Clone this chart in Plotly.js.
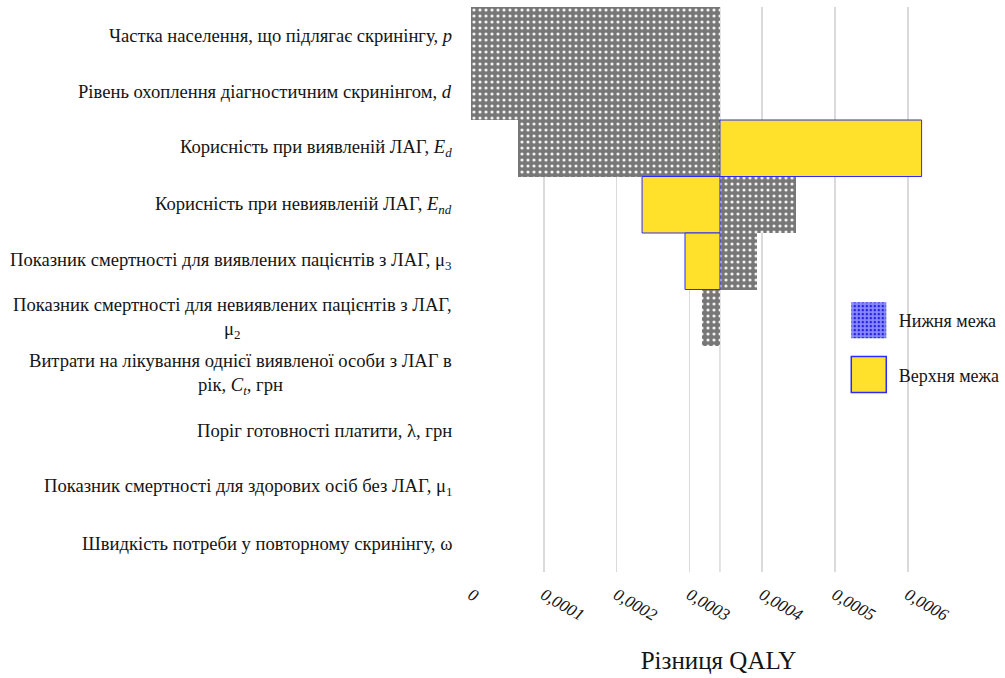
<!DOCTYPE html>
<html>
<head>
<meta charset="utf-8">
<script src="https://cdn.plot.ly/plotly-3.0.1.min.js"></script>
<style>
  html, body { margin: 0; padding: 0; background: #ffffff; }
  #chart { width: 1005px; height: 678px; }
</style>
</head>
<body>
<div id="chart"></div>
<script>
// Tornado diagram: one-way sensitivity of the QALY difference
const parameters = [
  'Частка населення, що підлягає скринінгу, <i>p</i>',
  'Рівень охоплення діагностичним скринінгом, <i>d</i>',
  'Корисність при виявленій ЛАГ, <i>E<sub>d</sub></i>',
  'Корисність при невиявленій ЛАГ, <i>E<sub>nd</sub></i>',
  'Показник смертності для виявлених пацієнтів з ЛАГ, μ<sub>3</sub>',
  'Показник смертності для невиявлених пацієнтів з ЛАГ,<br>μ<sub>2</sub>',
  'Витрати на лікування однієї виявленої особи з ЛАГ в<br>рік, <i>C<sub>t</sub></i>, грн',
  'Поріг готовності платити, λ, грн',
  'Показник смертності для здорових осіб без ЛАГ, μ<sub>1</sub>',
  'Швидкість потреби у повторному скринінгу, ω'
];

// Base-case QALY difference (where the bars meet)
const baseQaly = 0.000342;

// QALY difference at the lower / upper bound of each parameter
const lowerBound = [0, 0, 0.0000646, 0.000446, 0.000393, 0.000317, 0.000342, 0.000342, 0.000342, 0.000342];
const upperBound = [0.000342, 0.000342, 0.000619, 0.000235, 0.000294, 0.000342, 0.000342, 0.000342, 0.000342, 0.000342];

const seriesNames = ['Нижня межа', 'Верхня межа'];
const tickValues = [0, 0.0001, 0.0002, 0.0003, 0.0004, 0.0005, 0.0006];

const serif = "'Liberation Serif', 'Times New Roman', serif";
const textColor = '#151515';
const gridColor = '#dadada';

// bar length measured from the base case; no bar when the value does not move
const delta = arr => arr.map(v => (Math.abs(v - baseQaly) < 1e-12 ? null : v - baseQaly));

const lowerTrace = {
  type: 'bar', orientation: 'h',
  y: parameters, x: delta(lowerBound), base: baseQaly,
  name: seriesNames[0], showlegend: false,
  marker: {
    color: '#777777',
    line: { width: 0 },
    pattern: { shape: '.', bgcolor: '#777777', fgcolor: '#ffffff', fgopacity: 0.9, size: 6, solidity: 0.22 }
  },
  hoverinfo: 'skip'
};

const upperTrace = {
  type: 'bar', orientation: 'h',
  y: parameters, x: delta(upperBound), base: baseQaly,
  name: seriesNames[1], showlegend: false,
  marker: { color: '#ffe12b', line: { color: '#2b2bff', width: 1 } },
  hoverinfo: 'skip'
};

// legend entries
const lowerKey = {
  type: 'bar', orientation: 'h', x: [null], y: [parameters[0]],
  name: seriesNames[0], legendgroup: 'lo', showlegend: true,
  marker: {
    color: '#8a8aff', line: { width: 0 },
    pattern: { shape: '.', bgcolor: '#8a8aff', fgcolor: '#1f1fe6', size: 5, solidity: 0.3 }
  }
};
const upperKey = {
  type: 'bar', orientation: 'h', x: [null], y: [parameters[0]],
  name: seriesNames[1], legendgroup: 'hi', showlegend: true,
  marker: { color: '#ffe12b', line: { color: '#2b2bff', width: 1.5 } }
};

// category labels, centred line by line, right of the text against the plot
const labelNotes = parameters.map(p => ({
  x: 0, xref: 'paper', xanchor: 'right', xshift: -17,
  y: p, yref: 'y', yanchor: 'middle',
  text: p, showarrow: false, align: 'center',
  font: { family: serif, size: 18.6, color: textColor }
}));

const layout = {
  width: 1005, height: 678,
  margin: { l: 471, r: 39, t: 7, b: 106, autoexpand: false },
  paper_bgcolor: '#ffffff', plot_bgcolor: '#ffffff',
  separators: ', ',
  barmode: 'overlay', bargap: 0,
  showlegend: true,
  legend: {
    x: 0.743, xanchor: 'left', y: 0.478, yanchor: 'top',
    bgcolor: 'rgba(0,0,0,0)', borderwidth: 0,
    font: { family: serif, size: 18, color: textColor },
    tracegroupgap: 28, itemwidth: 50, traceorder: 'grouped'
  },
  xaxis: {
    range: [0, 0.00068],
    tickvals: tickValues, tickformat: '.4~f',
    tickangle: 30, ticks: '', ticklabelstandoff: 9,
    tickfont: { family: serif, size: 17, color: textColor, style: 'italic' },
    showgrid: true, gridcolor: gridColor, gridwidth: 1.5,
    zeroline: false, showline: false,
    title: { text: 'Різниця QALY', font: { family: serif, size: 25, color: textColor }, standoff: 27 }
  },
  yaxis: {
    type: 'category', autorange: 'reversed',
    showticklabels: false, ticks: '', showgrid: false, zeroline: false, showline: false
  },
  shapes: [{
    type: 'line', layer: 'below', xref: 'x', yref: 'paper',
    x0: baseQaly, x1: baseQaly, y0: 0, y1: 1,
    line: { color: gridColor, width: 1.5 }
  }],
  annotations: labelNotes
};

Plotly.newPlot('chart', [lowerTrace, upperTrace, lowerKey, upperKey], layout, { displayModeBar: false, staticPlot: true })
  .then(gd => {
    // larger legend keys; let them overflow the legend box
    gd.querySelectorAll('.legend .scrollbox').forEach(g => g.removeAttribute('clip-path'));
    gd.querySelectorAll('.legend .legendpoints path').forEach(p => {
      p.setAttribute('d', 'M17.5,18H-17.5V-18H17.5Z');
    });
  });
</script>
</body>
</html>
